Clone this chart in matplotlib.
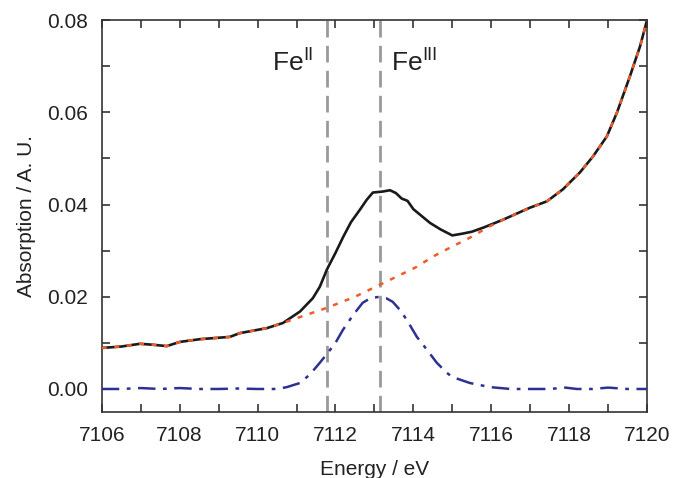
import numpy as np
import matplotlib
matplotlib.use("Agg")
import matplotlib.pyplot as plt
from matplotlib.ticker import MultipleLocator, FormatStrFormatter

plt.rcParams["font.family"] = ["Liberation Sans", "DejaVu Sans"]

# measured spectrum (black)
energy = [7106.0, 7106.5, 7106.98, 7107.3, 7107.67, 7108.0, 7108.52, 7109.29, 7109.54,
          7110.24, 7110.65, 7111.09, 7111.42, 7111.6, 7111.78, 7112.0, 7112.2, 7112.4,
          7112.63, 7112.8, 7112.96, 7113.2, 7113.4, 7113.55, 7113.7, 7113.85, 7114.0,
          7114.2, 7114.43, 7114.7, 7115.0, 7115.27, 7115.5, 7115.8, 7116.3, 7116.99,
          7117.43, 7117.84, 7118.28, 7118.61, 7118.97, 7119.23, 7119.56, 7119.82, 7120.0]
absorption = [0.0089, 0.0092, 0.0098, 0.0096, 0.0093, 0.0102, 0.0108, 0.0113, 0.0121,
              0.0132, 0.0143, 0.0168, 0.0197, 0.0222, 0.0259, 0.0295, 0.0330, 0.0362,
              0.0389, 0.0410, 0.0426, 0.0428, 0.0431, 0.0425, 0.0413, 0.0408, 0.0390,
              0.0376, 0.0360, 0.0346, 0.0333, 0.0337, 0.0341, 0.0350, 0.0367, 0.0393,
              0.0407, 0.0433, 0.0470, 0.0504, 0.0548, 0.0600, 0.0678, 0.0743, 0.0800]

# fitted background (orange)
bg_energy = [7106.0, 7106.5, 7106.98, 7107.3, 7107.67, 7108.0, 7108.52, 7109.29, 7109.54,
             7110.24, 7110.65, 7111.09, 7111.78, 7112.5, 7113.14, 7114.09, 7114.5,
             7115.0, 7115.45, 7115.9, 7116.3, 7116.99, 7117.43, 7117.84, 7118.28,
             7118.61, 7118.97, 7119.23, 7119.56, 7119.82, 7120.0]
bg_absorption = [0.0089, 0.0092, 0.0098, 0.0096, 0.0093, 0.0102, 0.0108, 0.0113, 0.0121,
                 0.0132, 0.0143, 0.0156, 0.0176, 0.0200, 0.0226, 0.0265, 0.0287,
                 0.0309, 0.0328, 0.0350, 0.0367, 0.0393, 0.0407, 0.0433, 0.0470,
                 0.0504, 0.0548, 0.0600, 0.0678, 0.0743, 0.0800]

# pre-edge peak after subtraction (blue)
pe_energy = [7106.0, 7106.5, 7107.0, 7107.5, 7108.0, 7108.5, 7109.0, 7109.5, 7110.0,
             7110.5, 7110.75, 7111.09, 7111.35, 7111.6, 7111.8, 7112.0, 7112.19, 7112.45,
             7112.7, 7112.9, 7113.14, 7113.3, 7113.47, 7113.65, 7113.83, 7114.09, 7114.35,
             7114.6, 7114.86, 7115.0, 7115.45, 7115.97, 7116.5, 7117.0, 7117.5, 7117.9,
             7118.2, 7118.6, 7119.0, 7119.5, 7120.0]
pe_absorption = [0.0000, 0.0000, 0.0002, 0.0000, 0.0002, 0.0000, 0.0000, 0.0001, 0.0000,
                 0.0000, 0.0004, 0.0013, 0.0032, 0.0057, 0.0078, 0.0100, 0.0128, 0.0160,
                 0.0187, 0.0197, 0.0200, 0.0197, 0.0189, 0.0172, 0.0150, 0.0113, 0.0085,
                 0.0057, 0.0035, 0.0026, 0.0013, 0.0004, 0.0000, 0.0000, 0.0000, 0.0003,
                 0.0000, 0.0000, 0.0003, 0.0000, 0.0000]

fe2_pos = 7111.78
fe3_pos = 7113.14

fig = plt.figure(figsize=(6.74, 4.78), dpi=100)
ax = fig.add_axes([0.151, 0.138, 0.809, 0.82])

ax.axvline(fe2_pos, color="#999999", lw=2, ls=(0, (6, 3)), zorder=1)
ax.axvline(fe3_pos, color="#999999", lw=2, ls=(0, (6, 3)), zorder=1)

ax.plot(energy, absorption, color="#1a1a1a", lw=1.9, zorder=2)
ax.plot(bg_energy, bg_absorption, color="#f15a29", lw=1.8, ls=(0, (2, 3)), zorder=3)
ax.plot(pe_energy, pe_absorption, color="#2e3192", lw=1.8, ls=(0, (7, 3, 1.5, 3)), zorder=3)

ax.text(7111.42, 0.0691, r"Fe$^{\mathregular{II}}$", fontsize=19, ha="right", va="baseline", color="#222222")
ax.text(7113.42, 0.0691, r"Fe$^{\mathregular{III}}$", fontsize=19, ha="left", va="baseline", color="#222222")

ax.set_xlim(7106, 7120)
ax.set_ylim(-0.005, 0.08)
ax.xaxis.set_major_locator(MultipleLocator(2))
ax.xaxis.set_minor_locator(MultipleLocator(1))
ax.yaxis.set_major_locator(MultipleLocator(0.02))
ax.yaxis.set_minor_locator(MultipleLocator(0.01))
ax.yaxis.set_major_formatter(FormatStrFormatter("%.2f"))

for side in ["left", "right", "top", "bottom"]:
    ax.spines[side].set_color("#333333")
    ax.spines[side].set_linewidth(1.2)
ax.tick_params(which="both", direction="in", top=True, right=True, colors="#333333",
               labelcolor="#222222", labelsize=15, width=1.2, length=6)
ax.tick_params(axis="x", which="major", pad=10)
ax.tick_params(axis="y", which="major", pad=10)

ax.set_xlabel("Energy / eV", fontsize=15, color="#222222", labelpad=11)
ax.set_ylabel("Absorption / A. U.", fontsize=15, color="#222222", labelpad=8)

fig.savefig("out.png", dpi=100)
